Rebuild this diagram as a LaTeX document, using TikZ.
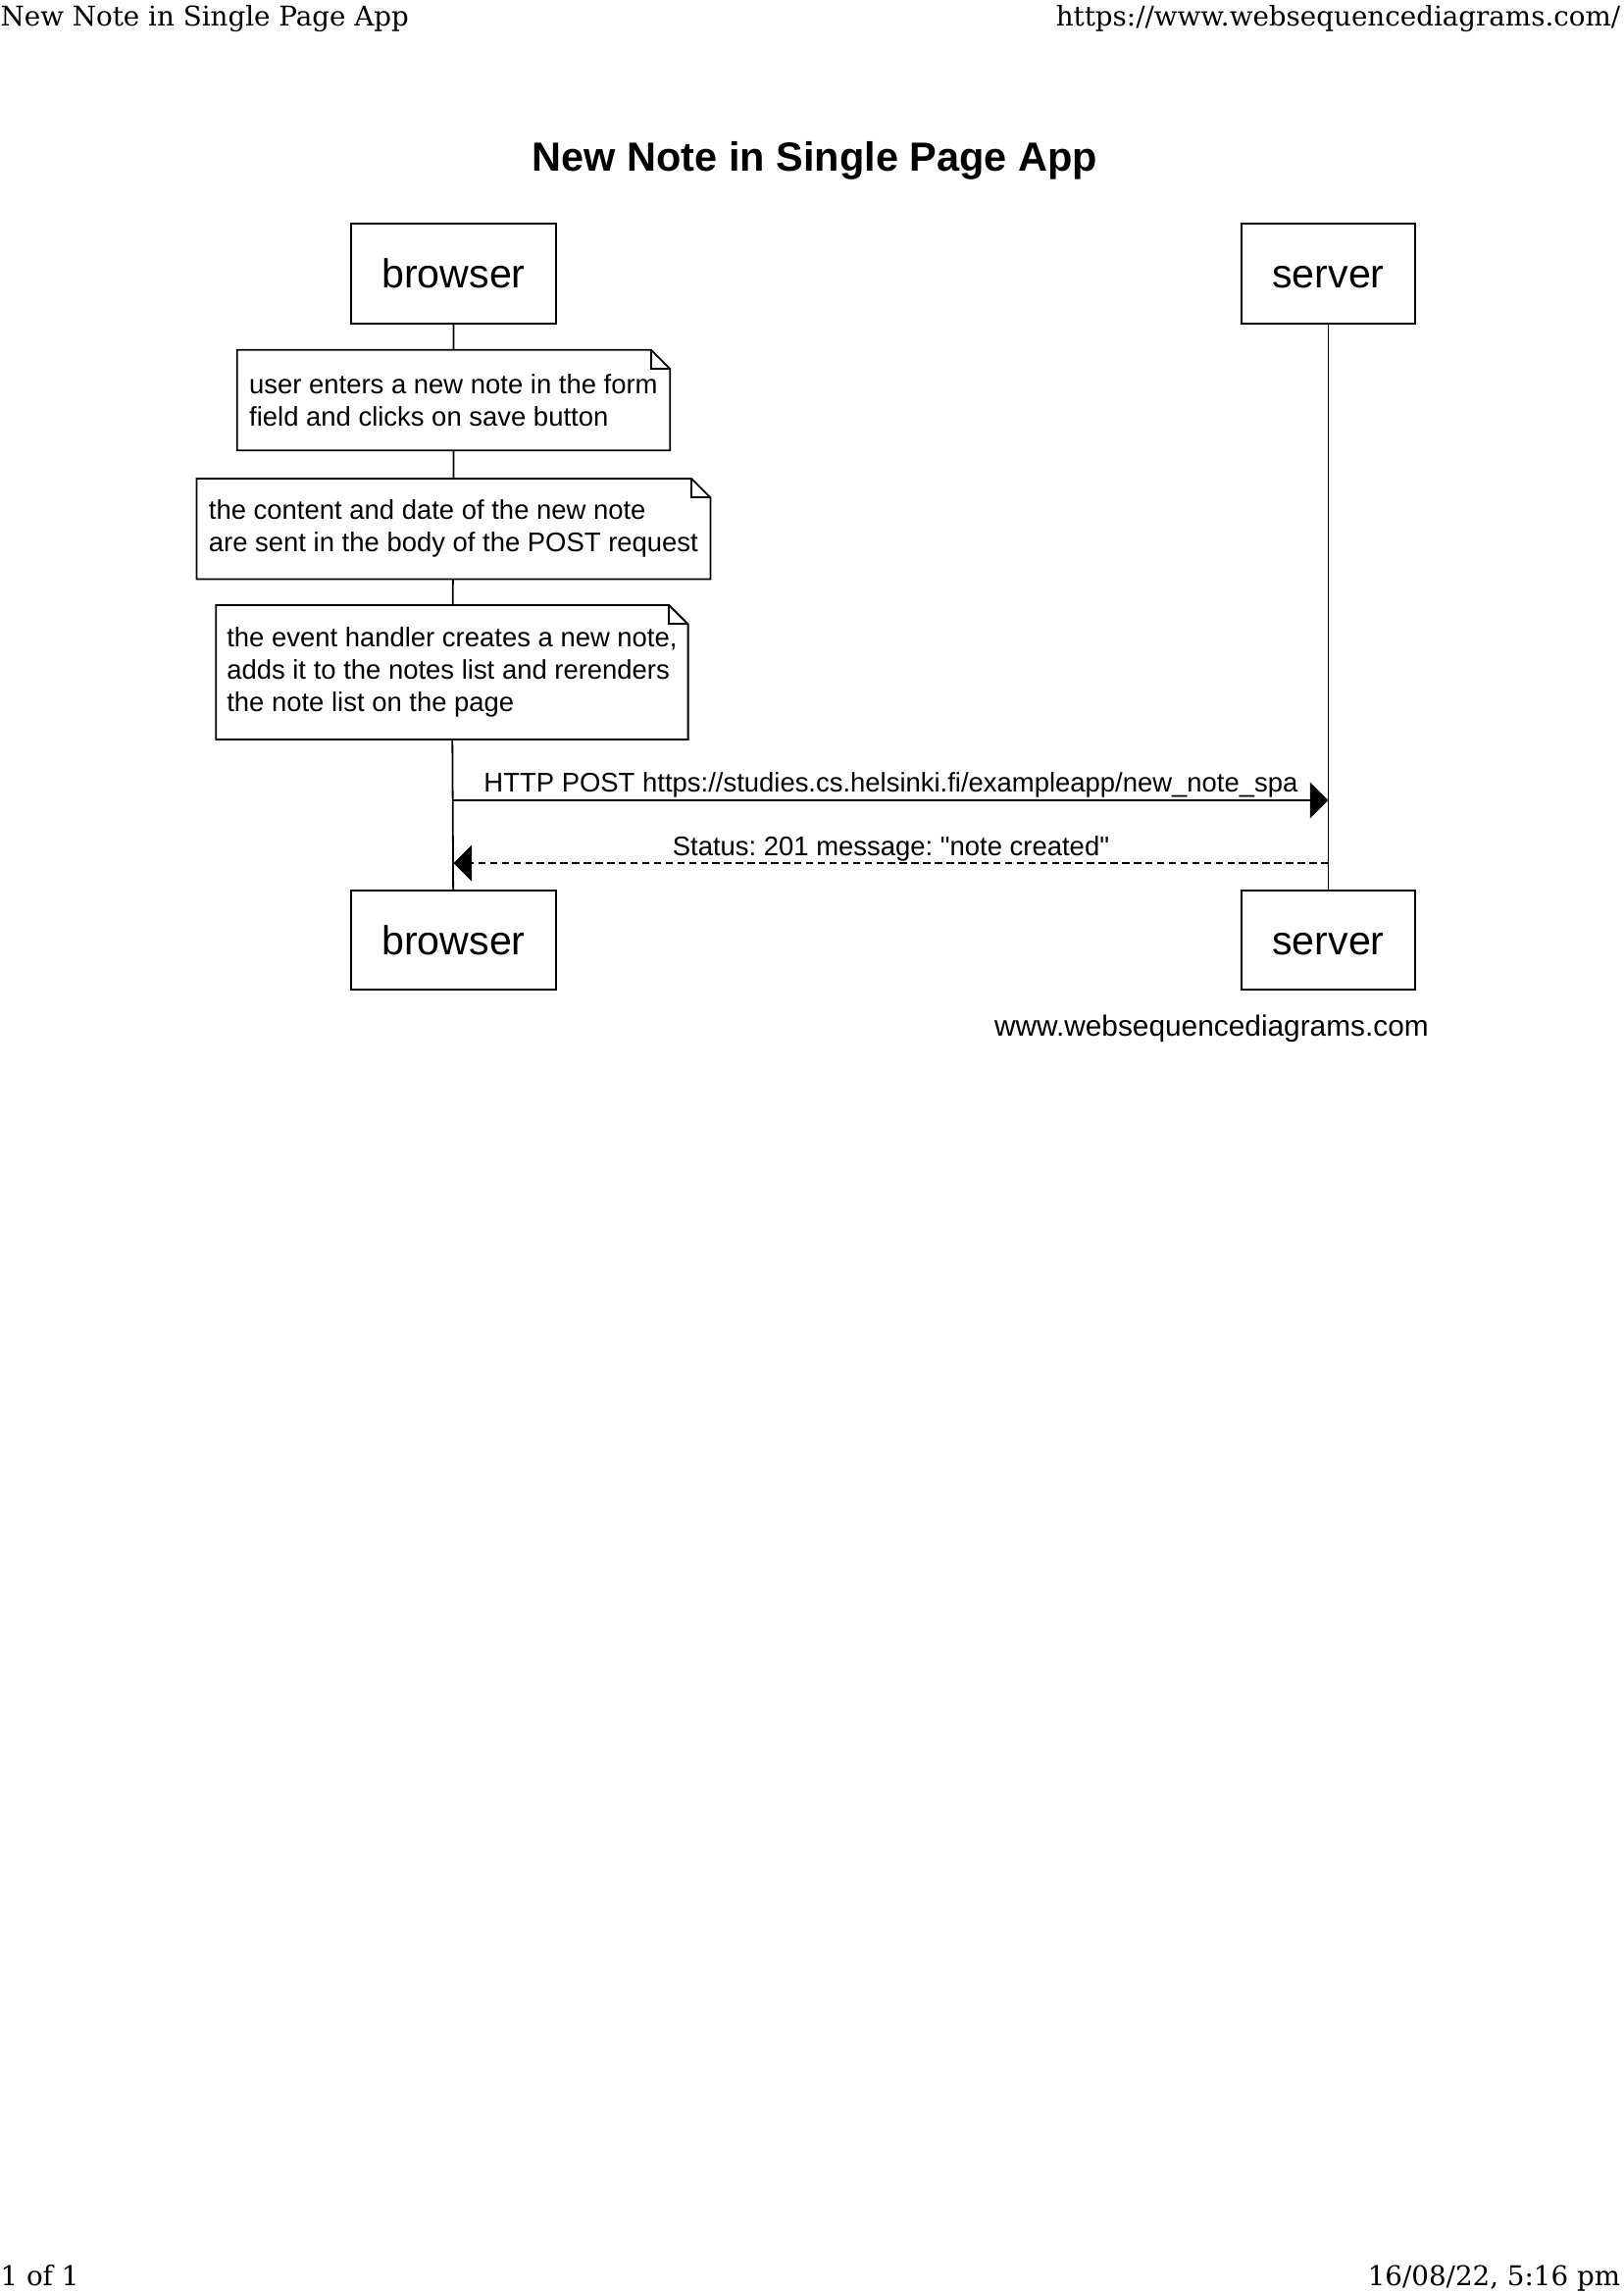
\documentclass[tikz,border=0pt]{standalone}
\usepackage{fontspec}
\setmainfont{Liberation Sans}
\newfontfamily\pagefont{DejaVu Serif}
\newfontfamily\msgfont{Liberation Sans}
\usepackage{tikz}
\usetikzlibrary{arrows.meta,positioning}
\tikzset{every node/.append style={transform shape=false}}
\tikzset{actor/.style={draw, line width=0.6pt, minimum height=34pt, inner xsep=10.5pt,
    text height=10pt, text depth=0pt, font=\fontsize{13.8}{16}\selectfont}}
\tikzset{note/.style={align=left, inner xsep=4pt, inner ysep=0pt,
    font=\fontsize{9.2}{11}\selectfont}}
\tikzset{msg/.style={line width=0.6pt, -{Triangle[length=6.25pt,width=12.3pt]}}}
\frenchspacing

\begin{document}
\begin{tikzpicture}[x=0.5pt, y=-0.5pt]
  \useasboundingbox (0,0) rectangle (1110,1568);

  % page header and footer
  \node[anchor=base west, inner sep=0pt, font=\pagefont\fontsize{9.3}{11}\selectfont] (hl) at (0,18) {New Note in Single Page App};
  \node[anchor=base east, inner sep=0pt, font=\pagefont\fontsize{9.3}{11}\selectfont] (hr) at (1108,18) {https://www.websequencediagrams.com/};
  \node[anchor=base west, inner sep=0pt, font=\pagefont\fontsize{9.3}{11}\selectfont] (fl) at (0,1562) {1 of 1};
  \node[anchor=base east, inner sep=0pt, font=\pagefont\fontsize{9.3}{11}\selectfont] (fr) at (1108,1562) {16/08/22, 5:16 pm};

  \node[font=\bfseries\fontsize{13.9}{16}\selectfont] (title) at (557,110) {New Note in Single Page App};

  \node[actor] (b1) at (310,187) {browser};
  \node[actor] (s1) at (908,187) {server};
  \node[actor] (b2) at (310,642.5) {browser};
  \node[actor] (s2) at (908,642.5) {server};

  \node[note, minimum height=34pt] (note1) at (310,273.5)
    {user enters a new note in the form\\field and clicks on save button};
  \node[note, minimum height=34pt] (note2) at (310,361.5)
    {the content and date of the new note\\are sent in the body of the POST request};
  \node[note, minimum height=45.5pt, inner xsep=3.5pt] (note3) at (309,459.5)
    {the event handler creates a new note,\\adds it to the notes list and rerenders\\the note list on the page};

  \foreach \n in {note1,note2,note3}{
    \draw[line width=0.6pt] (\n.north west) -- ([xshift=-6.5pt]\n.north east)
      -- ([yshift=-6.5pt]\n.north east) -- (\n.south east) -- (\n.south west) -- cycle;
    \draw[line width=0.6pt] ([xshift=-6.5pt]\n.north east) |- ([yshift=-6.5pt]\n.north east);
  };

  % lifelines
  \draw[line width=0.6pt] (b1) -- (note1) -- (note2) -- (note3) -- (b2);
  \draw[line width=0.6pt] (s1) -- (s2);

  \coordinate (post) at (0,547);
  \coordinate (resp) at (0,590);
  \draw[msg] (b1 |- post) -- (s1 |- post)
    node[midway, above, inner sep=0.5pt, font=\msgfont\fontsize{9.2}{11}\selectfont] (postlbl)
    {HTTP POST https://studies.cs.helsinki.fi/exampleapp/new\_note\_spa};
  \draw[msg, dash pattern=on 2.5pt off 1.5pt] (s1 |- resp) -- (b1 |- resp)
    node[midway, above, inner sep=0.5pt, font=\msgfont\fontsize{9.2}{11}\selectfont] (resplbl)
    {Status: 201 message: "note created"};

  \node[anchor=east, inner sep=0pt, font=\fontsize{10}{12}\selectfont] (wsd) at (977,703) {www.websequencediagrams.com};
\end{tikzpicture}
\end{document}
